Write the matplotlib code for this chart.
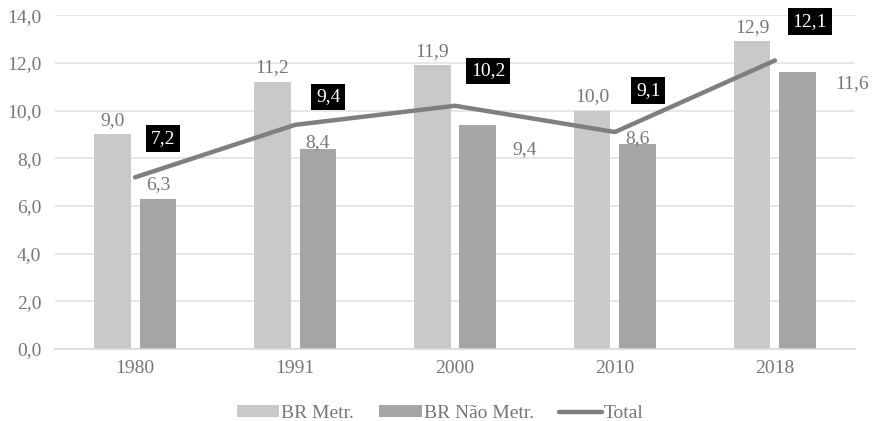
import numpy as np
import matplotlib
matplotlib.use("Agg")
import matplotlib.pyplot as plt

plt.rcParams['font.family'] = ['Liberation Serif', 'DejaVu Serif']

years = ['1980', '1991', '2000', '2010', '2018']
br_metr = [9.0, 11.2, 11.9, 10.0, 12.9]
br_nao_metr = [6.3, 8.4, 9.4, 8.6, 11.6]
total = [7.2, 9.4, 10.2, 9.1, 12.1]

# label offsets in points (dark bars sometimes have the label pushed aside)
nao_offsets = [(0, 4), (0, -2), (33.5, -24), (0, -2), (39, -14.5)]
total_offsets = [(20, 28), (24, 20), (24, 25), (24, 30), (25, 28)]

c_light = '#c9c9c9'
c_dark = '#a5a5a5'
c_line = '#7f7f7f'
c_text = '#767676'

fig = plt.figure(figsize=(8.75, 4.21), dpi=100)
ax = fig.add_axes([0.063, 0.171, 0.914, 0.793])

x = np.arange(len(years))
w = 0.23
off = 0.143
b1 = ax.bar(x - off, br_metr, w, color=c_light, zorder=2)
b2 = ax.bar(x + off, br_nao_metr, w, color=c_dark, zorder=2)
ln, = ax.plot(x, total, color=c_line, lw=3.2, solid_capstyle='round', zorder=3)

fs = 14
for i in range(len(years)):
    ax.annotate(f'{br_metr[i]:.1f}'.replace('.', ','), (x[i] - off, br_metr[i]),
                xytext=(0, 4), textcoords='offset points', ha='center', va='bottom',
                fontsize=fs, color=c_text)
    dx, dy = nao_offsets[i]
    ax.annotate(f'{br_nao_metr[i]:.1f}'.replace('.', ','), (x[i] + off, br_nao_metr[i]),
                xytext=(dx, dy), textcoords='offset points', ha='center', va='bottom',
                fontsize=fs, color=c_text)
    dx, dy = total_offsets[i]
    ax.annotate(f'{total[i]:.1f}'.replace('.', ','), (x[i], total[i]),
                xytext=(dx, dy), textcoords='offset points', ha='center', va='center',
                fontsize=fs, color='white', zorder=5,
                bbox=dict(boxstyle='square,pad=0.25', fc='black', ec='none'))

ax.set_xlim(-0.5, len(years) - 0.5)
ax.set_ylim(0, 14)
ax.set_yticks(np.arange(0, 14.1, 2))
ax.set_yticklabels([f'{v:.1f}'.replace('.', ',') for v in np.arange(0, 14.1, 2)])
ax.set_xticks(x)
ax.set_xticklabels(years)
ax.yaxis.grid(True, color='#e3e3e3', lw=1.2, zorder=0)
ax.set_axisbelow(True)
for s in ['top', 'right', 'left']:
    ax.spines[s].set_visible(False)
ax.spines['bottom'].set_color('#d9d9d9')
ax.spines['bottom'].set_linewidth(1.2)
ax.tick_params(axis='both', length=0, labelsize=fs, colors=c_text, pad=10)
ax.tick_params(axis='x', pad=8)

leg = fig.legend([b1, b2, ln], ['BR Metr.', 'BR Não Metr.', 'Total'],
                 loc='center', bbox_to_anchor=(0.503, 0.018), ncol=3, frameon=False,
                 fontsize=fs, handlelength=2.2, handleheight=0.5,
                 handletextpad=0.1, columnspacing=1.3)
for t in leg.get_texts():
    t.set_color(c_text)

fig.savefig('out.png', dpi=100)
